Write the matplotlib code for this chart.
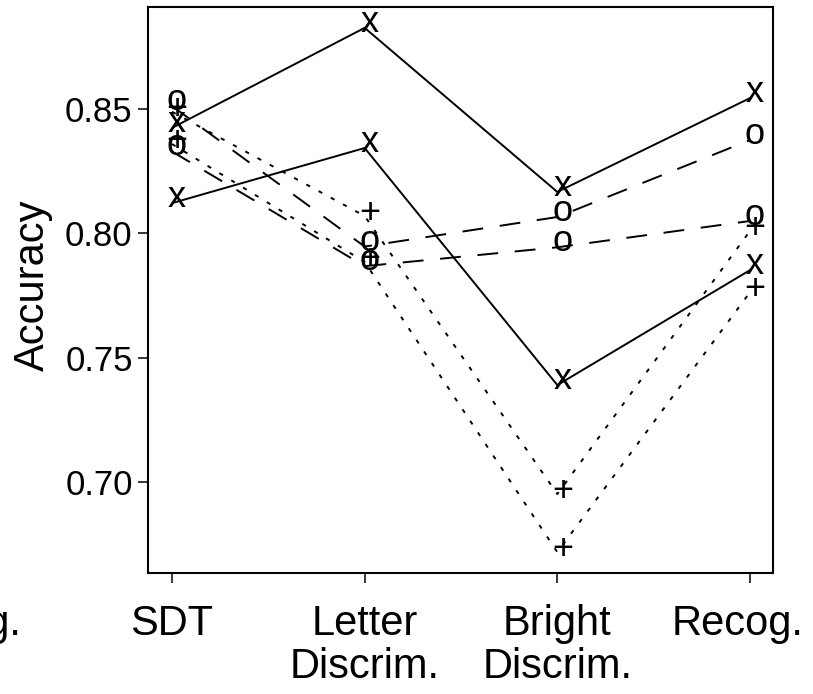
import matplotlib
matplotlib.use("Agg")
import matplotlib.pyplot as plt
import matplotlib.transforms as mtransforms

plt.rcParams['font.family'] = ['Liberation Sans', 'DejaVu Sans']
plt.rcParams['lines.scale_dashes'] = False

tasks = ['SDT', 'Letter\nDiscrim.', 'Bright\nDiscrim.', 'Recog.']
pos = [1, 2, 3, 4]

# solid lines, marked "x"
x_hi = [0.8425, 0.8828, 0.8167, 0.8545]
x_lo = [0.8122, 0.8344, 0.7389, 0.7852]
# dashed lines, marked "o"
o_hi = [0.8513, 0.7947, 0.8066, 0.8376]
o_lo = [0.8330, 0.7868, 0.7944, 0.8050]
# dotted lines, marked "+"
p_hi = [0.8490, 0.8070, 0.6950, 0.8010]
p_lo = [0.8360, 0.7885, 0.6716, 0.7763]

yticks = [0.70, 0.75, 0.80, 0.85]

fig = plt.figure(figsize=(8.13, 6.94), dpi=100)
ax = fig.add_axes([148 / 813, 1 - 573 / 694, 625 / 813, 566 / 694])

series = [
    (x_hi, 'x', '-'), (x_lo, 'x', '-'),
    (o_hi, 'o', 'dashed'), (o_lo, 'o', 'dashed'),
    (p_hi, '+', 'dotted'), (p_lo, '+', 'dotted'),
]

for vals, ch, ls in series:
    if ls == '-':
        ax.plot(pos, vals, color='black', lw=1.4, solid_capstyle='butt')
    elif ls == 'dashed':
        ax.plot(pos, vals, color='black', lw=1.4, dashes=(15, 12))
    else:
        ax.plot(pos, vals, color='black', lw=1.4, dashes=(3.0, 7.0))
    # R draws these character symbols a little up and right of the point
    dy = -7 if ch == '+' else -4
    for a, b in zip(pos, vals):
        ax.annotate(ch, (a, b), textcoords='offset pixels', xytext=(5, dy),
                    ha='center', va='baseline', fontsize=26)

ax.set_xlim(0.8754, 4.1194)
ax.set_ylim(0.6632, 0.8912)

ax.set_xticks(pos)
ax.set_xticklabels(tasks, linespacing=1.1)
ax.set_yticks(yticks)
ax.set_yticklabels(['%.2f' % v for v in yticks])
ax.tick_params(axis='both', length=7, width=1.1, direction='out')
ax.tick_params(axis='x', labelsize=30, pad=15)
ax.tick_params(axis='y', labelsize=25, pad=4)

# the last label sits a bit left of its tick so it stays inside the picture
lab = ax.get_xticklabels()[-1]
lab.set_transform(lab.get_transform() + mtransforms.ScaledTranslation(-12 / 100, 0, fig.dpi_scale_trans))

for s in ax.spines.values():
    s.set_linewidth(1.5)

# label of a tick that falls outside the plotted range, partly cut by the figure edge
trans = mtransforms.blended_transform_factory(ax.transData, ax.transAxes)
ax.text(-0.121, 0, 'Recog.', transform=trans + mtransforms.ScaledTranslation(0, -22 / 72, fig.dpi_scale_trans),
        ha='center', va='top', fontsize=30, clip_on=False)

ax.set_ylabel('Accuracy', fontsize=30)
ax.yaxis.set_label_coords(-0.152, 0.508)

fig.savefig('out.png', dpi=100)
